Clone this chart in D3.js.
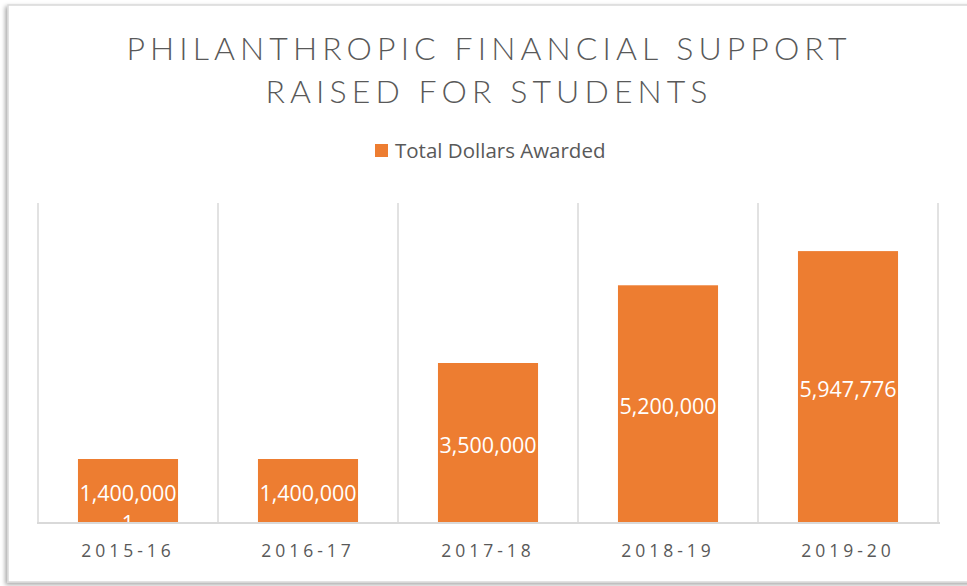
<!DOCTYPE html>
<html>
<head>
<meta charset="utf-8">
<script src="https://cdn.jsdelivr.net/npm/d3@7"></script>
<style>
  body { margin: 0; background: #fff; }
  svg { display: block; }
</style>
</head>
<body>
<div id="chart"></div>
<script>
const categories = ["2015-16", "2016-17", "2017-18", "2018-19", "2019-20"];
const values = [1400000, 1400000, 3500000, 5200000, 5947776];
const seriesName = "Total Dollars Awarded";
const titleLines = ["PHILANTHROPIC FINANCIAL SUPPORT", "RAISED FOR STUDENTS"];

const width = 967, height = 586;
const margin = { top: 203, right: 29, bottom: 63, left: 38 };
const orange = "#ed7d31";
const textGray = "#595959";
const gridGray = "#d9d9d9";

const svg = d3.select("#chart").append("svg")
  .attr("width", width)
  .attr("height", height);

// frame with a soft shadow like the source picture
const defs = svg.append("defs");
const shadow = defs.append("filter").attr("id", "shadow")
  .attr("x", "-5%").attr("y", "-5%").attr("width", "110%").attr("height", "110%");
shadow.append("feDropShadow")
  .attr("dx", -2).attr("dy", 2).attr("stdDeviation", 2)
  .attr("flood-color", "#000").attr("flood-opacity", 0.35);

svg.append("rect")
  .attr("x", 8).attr("y", 5)
  .attr("width", 980).attr("height", 577)
  .attr("fill", "#fff")
  .attr("stroke", gridGray)
  .attr("stroke-width", 1.5)
  .attr("filter", "url(#shadow)");

const x = d3.scaleBand()
  .domain(categories)
  .range([margin.left, width - margin.right])
  .paddingInner(0.444)
  .paddingOuter(0.222);

const y = d3.scaleLinear()
  .domain([0, 7000000])
  .range([height - margin.bottom, margin.top]);

const step = x.step();

// vertical gridlines between categories
const gridX = categories.map(c => x(c) - (step - x.bandwidth()) / 2);
gridX.push(x(categories[categories.length - 1]) + x.bandwidth() + (step - x.bandwidth()) / 2);
svg.append("g").selectAll("line")
  .data(gridX)
  .enter()
  .append("line")
  .attr("x1", d => d).attr("x2", d => d)
  .attr("y1", y.range()[1]).attr("y2", y.range()[0])
  .attr("stroke", gridGray)
  .attr("stroke-width", 1.5);

// bars
svg.append("clipPath").attr("id", "plotClip")
  .append("rect")
  .attr("x", margin.left).attr("y", margin.top)
  .attr("width", width - margin.left - margin.right)
  .attr("height", y.range()[0] - margin.top);

svg.append("g").selectAll("rect")
  .data(values)
  .enter()
  .append("rect")
  .attr("x", (d, i) => x(categories[i]))
  .attr("y", d => y(d))
  .attr("width", x.bandwidth())
  .attr("height", d => y(0) - y(d))
  .attr("fill", orange);

// data labels
const labelFont = "'Open Sans', 'Noto Sans', sans-serif";
const labels = svg.append("g").attr("clip-path", "url(#plotClip)");
labels.selectAll("text")
  .data(values)
  .enter()
  .append("text")
  .attr("x", (d, i) => x(categories[i]) + x.bandwidth() / 2)
  .attr("y", d => (y(d) + y(0)) / 2 + 2)
  .attr("dy", "0.35em")
  .attr("text-anchor", "middle")
  .attr("fill", "#fff")
  .attr("font-family", labelFont)
  .attr("font-size", 21.5)
  .text(d => d3.format(",")(d));

// stray wrapped line under the first label, cut off by the axis
labels.append("text")
  .attr("x", x(categories[0]) + x.bandwidth() / 2)
  .attr("y", (y(values[0]) + y(0)) / 2 + 32)
  .attr("dy", "0.35em")
  .attr("text-anchor", "middle")
  .attr("fill", "#fff")
  .attr("font-family", labelFont)
  .attr("font-size", 21.5)
  .text("1");

// x axis
const xAxis = svg.append("g")
  .attr("transform", `translate(0,${y(0)})`)
  .call(d3.axisBottom(x).tickSize(0).tickPadding(22));
xAxis.select(".domain")
  .attr("d", `M${margin.left - 1},0H${width - margin.right + 2}`)
  .attr("stroke", gridGray)
  .attr("stroke-width", 2);
xAxis.selectAll("text")
  .attr("fill", textGray)
  .attr("font-family", labelFont)
  .attr("font-size", 17.5)
  .attr("letter-spacing", "4px");

// title
svg.append("g").selectAll("text")
  .data(titleLines)
  .enter()
  .append("text")
  .attr("x", 489)
  .attr("y", (d, i) => 60 + i * 43)
  .attr("text-anchor", "middle")
  .attr("fill", textGray)
  .attr("font-family", "Lato, 'Open Sans', sans-serif")
  .attr("font-weight", 300)
  .attr("font-size", 32)
  .attr("letter-spacing", "5.1px")
  .text(d => d);

// legend
const legend = svg.append("g").attr("transform", "translate(375,144)");
legend.append("rect")
  .attr("width", 13).attr("height", 13)
  .attr("fill", orange);
legend.append("text")
  .attr("x", 20).attr("y", 7)
  .attr("dy", "0.35em")
  .attr("fill", textGray)
  .attr("font-family", labelFont)
  .attr("font-size", 20.5)
  .text(seriesName);
</script>
</body>
</html>
